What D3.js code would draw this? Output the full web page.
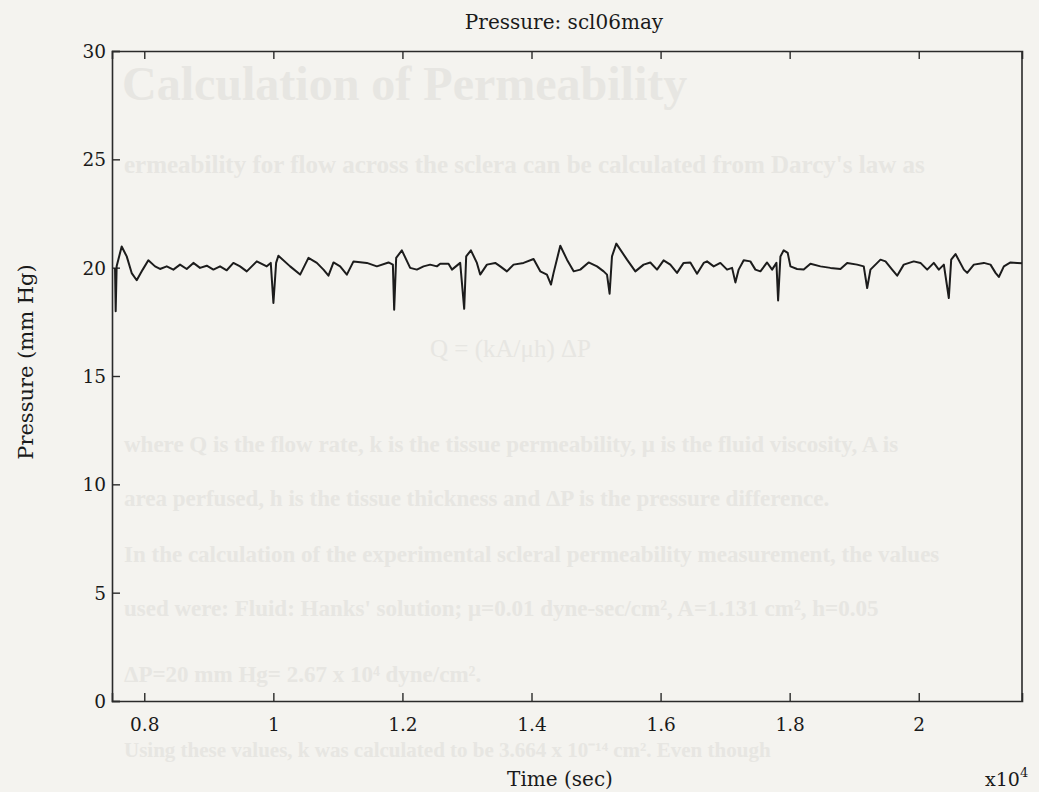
<!DOCTYPE html>
<html>
<head>
<meta charset="utf-8">
<script src="https://cdn.jsdelivr.net/npm/d3@7"></script>
<style>
  body { margin: 0; background: #f4f3ef; }
  svg { display: block; font-family: "DejaVu Serif", "Liberation Serif", serif; }
</style>
</head>
<body>
<script>
// time in seconds, pressure in mm Hg
const timeSec = [
  7547, 7557, 7572, 7650, 7728, 7805, 7883, 7976, 8063, 8167, 8244, 8348, 8451, 8554, 8658,
  8761, 8864, 8968, 9071, 9174, 9278, 9381, 9484, 9588, 9743, 9898, 9960, 10001, 10043, 10078,
  10260, 10415, 10544, 10674, 10777, 10854, 10932, 11035, 11139, 11242, 11449, 11604, 11784, 11852, 11872,
  11903, 11991, 12120, 12224, 12327, 12430, 12534, 12585, 12714, 12767, 12895, 12957, 12988, 13061, 13154,
  13205, 13309, 13438, 13516, 13619, 13722, 13877, 14032, 14136, 14239, 14302, 14342, 14446, 14550, 14653,
  14756, 14885, 15015, 15118, 15170, 15210, 15247, 15314, 15480, 15609, 15737, 15841, 15945, 16047, 16151,
  16255, 16357, 16461, 16565, 16668, 16720, 16823, 16926, 17030, 17108, 17159, 17210, 17288, 17391, 17469,
  17547, 17650, 17728, 17795, 17821, 17857, 17908, 17970, 18012, 18115, 18218, 18322, 18477, 18632, 18787,
  18891, 19046, 19148, 19201, 19252, 19407, 19485, 19588, 19666, 19768, 19923, 20027, 20131, 20233, 20311,
  20389, 20466, 20503, 20570, 20699, 20751, 20854, 21009, 21112, 21190, 21241, 21319, 21422, 21526, 21600
];
const pressure = [
  19.99, 17.99, 20.06, 20.98, 20.52, 19.75, 19.42, 19.91, 20.34, 20.06, 19.94, 20.06, 19.91, 20.14, 19.94,
  20.22, 19.99, 20.09, 19.91, 20.06, 19.88, 20.22, 20.06, 19.83, 20.29, 20.06, 20.22, 18.37, 20.22, 20.55,
  20.06, 19.68, 20.45, 20.22, 19.91, 19.63, 20.24, 20.06, 19.68, 20.29, 20.22, 20.06, 20.24, 20.14, 18.06,
  20.45, 20.80, 19.99, 19.91, 20.06, 20.14, 20.06, 20.18, 20.18, 19.91, 20.22, 18.10, 20.52, 20.80, 20.22,
  19.68, 20.14, 20.22, 20.06, 19.83, 20.14, 20.22, 20.40, 19.83, 19.68, 19.22, 19.76, 21.01, 20.37, 19.83,
  19.91, 20.24, 20.06, 19.83, 19.68, 18.80, 20.52, 21.11, 20.37, 19.83, 20.14, 20.24, 19.91, 20.34, 20.14,
  19.76, 20.22, 20.24, 19.72, 20.22, 20.29, 20.06, 20.22, 19.91, 19.99, 19.32, 19.91, 20.34, 20.29, 19.91,
  19.83, 20.24, 19.91, 20.22, 18.49, 20.52, 20.80, 20.68, 20.06, 19.94, 19.91, 20.18, 20.06, 19.99, 19.94,
  20.22, 20.14, 20.06, 19.06, 19.91, 20.37, 20.29, 19.91, 19.63, 20.14, 20.29, 20.22, 19.91, 20.22, 19.91,
  20.14, 18.60, 20.37, 20.63, 19.91, 19.76, 20.14, 20.22, 20.14, 19.76, 19.57, 20.06, 20.24, 20.22, 20.20
];
const xTicks = [8000, 10000, 12000, 14000, 16000, 18000, 20000];
const yTicks = [0, 5, 10, 15, 20, 25, 30];

// faint text showing through from the scanned page behind the figure
const bleedLines = [
  "ermeability for flow across the sclera can be calculated from Darcy's law as",
  "where Q is the flow rate, k is the tissue permeability, \u03bc is the fluid viscosity, A is",
  "area perfused, h is the tissue thickness and \u0394P is the pressure difference.",
  "In the calculation of the experimental scleral permeability measurement, the values",
  "used were: Fluid: Hanks' solution; \u03bc=0.01 dyne-sec/cm\u00b2, A=1.131 cm\u00b2, h=0.05",
  "\u0394P=20 mm Hg= 2.67 x 10\u2074 dyne/cm\u00b2.",
  "Using these values, k was calculated to be 3.664 x 10\u207b\u00b9\u2074 cm\u00b2. Even though"
];
const bleedY = [173, 452, 506, 562, 616, 682, 757];
const bleedSize = [25, 23, 23, 23, 23, 23, 21];

const width = 1039;
const height = 792;
const margin = {top: 51, right: 17, bottom: 91, left: 112};

const svg = d3.select("body").append("svg")
  .attr("width", width)
  .attr("height", height);

svg.append("rect").attr("width", width).attr("height", height).attr("fill", "#f4f3ef");

// background bleed-through, kept clear of the chart's own texts
const bleed = svg.append("g")
  .attr("fill", "#e7e6e2")
  .attr("font-family", "'Liberation Serif', serif");
bleed.append("text")
  .attr("x", 122).attr("y", 100)
  .attr("font-size", 48).attr("font-weight", "bold")
  .text("Calculation of Permeability");
bleed.selectAll("text.line")
  .data(bleedLines)
  .join("text")
  .attr("class", "line")
  .attr("x", 124)
  .attr("y", (d, i) => bleedY[i])
  .attr("font-size", (d, i) => bleedSize[i])
  .attr("font-weight", "bold")
  .text(d => d);
bleed.append("text")
  .attr("x", 430).attr("y", 357)
  .attr("font-size", 25)
  .text("Q = (kA/\u03bch) \u0394P");

const x = d3.scaleLinear()
  .domain([7500, 21600])
  .range([margin.left, width - margin.right]);
const y = d3.scaleLinear()
  .domain([0, 30])
  .range([height - margin.bottom, margin.top]);

const axisColor = "#2a2a2a";

// bottom axis, ticks pointing inward
const gx = svg.append("g")
  .attr("transform", `translate(0,${height - margin.bottom})`)
  .call(d3.axisBottom(x).tickValues(xTicks).tickSize(-8).tickPadding(17)
    .tickFormat(d => d3.format("~g")(d / 1e4)));
// top axis
const gxt = svg.append("g")
  .attr("transform", `translate(0,${margin.top})`)
  .call(d3.axisTop(x).tickValues(xTicks).tickSize(-8).tickFormat(""));
// left axis
const gy = svg.append("g")
  .attr("transform", `translate(${margin.left},0)`)
  .call(d3.axisLeft(y).tickValues(yTicks).tickSize(-8).tickPadding(6));
// right border
svg.append("line")
  .attr("x1", width - margin.right).attr("x2", width - margin.right)
  .attr("y1", margin.top).attr("y2", height - margin.bottom)
  .attr("stroke", axisColor).attr("stroke-width", 1.6);

[gx, gxt, gy].forEach(g => {
  g.select(".domain").attr("stroke", axisColor).attr("stroke-width", 1.6);
  g.selectAll(".tick line").attr("stroke", axisColor).attr("stroke-width", 1.4);
  g.selectAll("text")
    .attr("fill", "#1a1a1a")
    .attr("font-size", 18.5)
    .attr("font-family", "'DejaVu Serif', serif");
});
gy.selectAll("text").attr("dy", "0.35em");

// trace
const line = d3.line()
  .x((d, i) => x(timeSec[i]))
  .y(d => y(d));
svg.append("path")
  .datum(pressure)
  .attr("fill", "none")
  .attr("stroke", "#1c1c1c")
  .attr("stroke-width", 2)
  .attr("stroke-linejoin", "round")
  .attr("d", line);

// titles
svg.append("text")
  .attr("x", 564).attr("y", 29)
  .attr("text-anchor", "middle")
  .attr("font-size", 20)
  .attr("fill", "#1a1a1a")
  .text("Pressure: scl06may");
svg.append("text")
  .attr("x", 560).attr("y", 786)
  .attr("text-anchor", "middle")
  .attr("font-size", 20)
  .attr("fill", "#1a1a1a")
  .text("Time (sec)");
svg.append("text")
  .attr("transform", "translate(33,362) rotate(-90)")
  .attr("text-anchor", "middle")
  .attr("font-size", 21)
  .attr("fill", "#1a1a1a")
  .text("Pressure (mm Hg)");
const mult = svg.append("text")
  .attr("x", 985).attr("y", 786)
  .attr("font-size", 19)
  .attr("fill", "#1a1a1a");
mult.append("tspan").text("x10");
mult.append("tspan").attr("dy", -9).attr("font-size", 13).text("4");
</script>
</body>
</html>
